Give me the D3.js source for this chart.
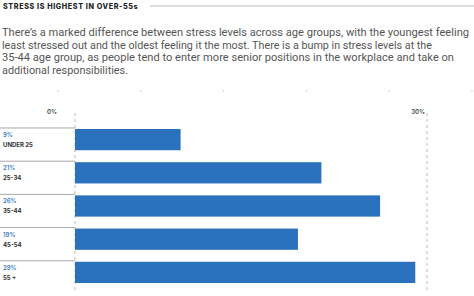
<!DOCTYPE html>
<html>
<head>
<meta charset="utf-8">
<script src="https://cdn.jsdelivr.net/npm/d3@7"></script>
<style>
  body { margin: 0; background: #fff; }
  svg { display: block; font-family: Inter, "Noto Sans", sans-serif; }
</style>
</head>
<body>
<svg id="chart" width="474" height="296"></svg>
<script>
const title = 'STRESS IS HIGHEST IN OVER-55s';
const intro = [
  'There\u2019s a marked difference between stress levels across age groups, with the youngest feeling',
  'least stressed out and the oldest feeling it the most. There is a bump in stress levels at the',
  '35-44 age group, as people tend to enter more senior positions in the workplace and take on',
  'additional responsibilities.'
];
const introWidths = [467, 430, 452, 126];
const ageGroups = ['UNDER 25', '25-34', '35-44', '45-54', '55 +'];
const stress = [9, 21, 26, 19, 29];
const axisTicks = [0, 30];

const svg = d3.select('#chart');
const width = 474, height = 296;

// header
svg.append('text')
  .attr('x', 3).attr('y', 9)
  .attr('font-size', 7.2).attr('font-weight', 800)
  .attr('letter-spacing', 0.6)
  .attr('fill', '#222')
  .text(title);
svg.append('line')
  .attr('x1', 150).attr('x2', width).attr('y1', 6).attr('y2', 6)
  .attr('stroke', '#bbb').attr('stroke-width', 1);

svg.append('g').selectAll('text')
  .data(intro)
  .join('text')
  .attr('x', 2)
  .attr('y', (d, i) => 36 + i * 12.7)
  .attr('font-family', 'Roboto, sans-serif')
  .attr('font-size', 10.8)
  .attr('fill', '#555')
  .attr('textLength', (d, i) => introWidths[i])
  .attr('lengthAdjust', 'spacingAndGlyphs')
  .text(d => d);

// faint marks under the intro
svg.append('g').selectAll('circle')
  .data(d3.range(6))
  .join('circle')
  .attr('cx', i => 58 + i * 82.8)
  .attr('cy', 91)
  .attr('r', 0.8)
  .attr('fill', '#ccc');

const x = d3.scaleLinear().domain([0, 30]).range([75, 427]);
const y = d3.scaleBand().domain(ageGroups).range([128, 284]).paddingInner(0.36).paddingOuter(0.03);

// dashed gridlines + tick labels
const grid = svg.append('g');
grid.selectAll('line')
  .data(axisTicks)
  .join('line')
  .attr('x1', d => x(d)).attr('x2', d => x(d))
  .attr('y1', 113).attr('y2', 292)
  .attr('stroke', '#aaa').attr('stroke-width', 0.8)
  .attr('stroke-dasharray', '3,3');
grid.selectAll('text')
  .data(axisTicks)
  .join('text')
  .attr('x', d => x(d) - (d === 0 ? 18 : 2))
  .attr('y', 114)
  .attr('text-anchor', 'end')
  .attr('font-size', 6)
  .attr('font-weight', 600)
  .attr('fill', '#444')
  .text(d => d + '%');

// row separators on the left
svg.append('g').selectAll('line')
  .data(ageGroups)
  .join('line')
  .attr('x1', 0).attr('x2', x(0))
  .attr('y1', d => y(d) - 1).attr('y2', d => y(d) - 1)
  .attr('stroke', '#aaa').attr('stroke-width', 1);

// bars
svg.append('g').selectAll('rect')
  .data(ageGroups)
  .join('rect')
  .attr('x', x(0))
  .attr('y', d => y(d))
  .attr('width', (d, i) => x(stress[i]) - x(0))
  .attr('height', y.bandwidth())
  .attr('fill', '#2a72be');

// labels
const labels = svg.append('g');
labels.selectAll('text.pct')
  .data(ageGroups)
  .join('text')
  .attr('class', 'pct')
  .attr('x', 3)
  .attr('y', d => y(d) + 8)
  .attr('font-size', 6)
  .attr('font-weight', 600)
  .attr('fill', '#3a7cc0')
  .text((d, i) => stress[i] + '%');
labels.selectAll('text.cat')
  .data(ageGroups)
  .join('text')
  .attr('class', 'cat')
  .attr('x', 3)
  .attr('y', d => y(d) + 18)
  .attr('font-size', 6)
  .attr('font-weight', 700)
  .attr('fill', '#333')
  .text(d => d);
</script>
</body>
</html>
